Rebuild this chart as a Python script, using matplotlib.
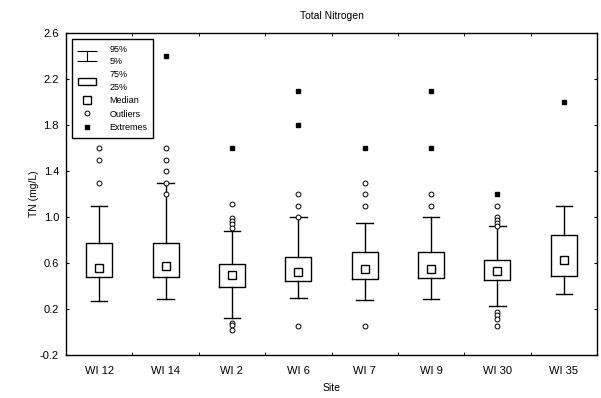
import numpy as np
import matplotlib
matplotlib.use("Agg")
import matplotlib.pyplot as plt
from matplotlib.lines import Line2D
from matplotlib.patches import Rectangle
from matplotlib.path import Path

plt.rcParams['font.family'] = ['Liberation Sans', 'DejaVu Sans']

# summary values (TN, mg/L)
sites = ['WI 12', 'WI 14', 'WI 2', 'WI 6', 'WI 7', 'WI 9', 'WI 30', 'WI 35']
p05 = [0.27, 0.29, 0.12, 0.30, 0.28, 0.29, 0.23, 0.33]
p25 = [0.48, 0.48, 0.39, 0.44, 0.46, 0.47, 0.45, 0.49]
medians = [0.56, 0.57, 0.50, 0.52, 0.55, 0.55, 0.53, 0.63]
p75 = [0.77, 0.77, 0.59, 0.65, 0.70, 0.70, 0.63, 0.84]
p95 = [1.10, 1.30, 0.88, 1.00, 0.95, 1.00, 0.92, 1.10]
outliers = [
    [1.6, 1.5, 1.3],
    [1.6, 1.5, 1.4, 1.3, 1.2],
    [1.11, 0.99, 0.965, 0.935, 0.905, 0.08, 0.06, 0.02],
    [1.2, 1.1, 1.0, 0.05],
    [1.3, 1.2, 1.1, 0.05],
    [1.2, 1.1],
    [1.1, 1.0, 0.975, 0.95, 0.925, 0.17, 0.145, 0.115, 0.05],
    [],
]
extremes = [[], [2.4], [1.6], [2.1, 1.8], [1.6], [2.1, 1.6], [1.2], [2.0]]

yticks = np.arange(-0.2, 2.61, 0.4)

fig = plt.figure(figsize=(6.01, 3.98), dpi=100)
ax = fig.add_axes([66/601, 1 - 355/398, 531/601, 322/398])

stats = []
for i in range(len(sites)):
    stats.append(dict(med=medians[i], mean=medians[i], q1=p25[i], q3=p75[i],
                      whislo=p05[i], whishi=p95[i], fliers=outliers[i], label=sites[i]))

pos = np.arange(1, len(sites) + 1)
ax.bxp(stats, positions=pos, widths=0.39, showmeans=True, showfliers=True,
       boxprops=dict(color='black', lw=1),
       whiskerprops=dict(color='black', lw=1),
       capprops=dict(color='black', lw=1),
       capwidths=0.25,
       medianprops=dict(linestyle='none'),
       meanprops=dict(marker='s', markerfacecolor='white', markeredgecolor='black',
                      markersize=6, markeredgewidth=1),
       flierprops=dict(marker='o', markerfacecolor='white', markeredgecolor='black',
                       markersize=3.5, markeredgewidth=0.7))

for i, ext in enumerate(extremes):
    ax.plot([pos[i]] * len(ext), ext, 's', color='black', ms=3.2, ls='none')

ax.set_xlim(0.5, len(sites) + 0.5)
ax.set_ylim(-0.2, 2.6)
ax.set_xticks(pos)
ax.set_xticklabels(sites, fontsize=8)
ax.set_xticks(pos[:-1] + 0.5, minor=True)
ax.tick_params(axis='x', which='major', length=0, pad=8)
ax.tick_params(axis='x', which='minor', length=2.5, direction='in', top=True, bottom=True)
ax.set_yticks(yticks)
ax.set_yticklabels(['%.1f' % v for v in yticks], fontsize=8)
ax.tick_params(axis='y', length=2.5, direction='in', left=True, right=True, pad=5)
for s in ax.spines.values():
    s.set_linewidth(1)

ax.set_title('Total Nitrogen', fontsize=7.5, pad=10)
ax.set_xlabel('Site', fontsize=7.5, labelpad=5)
ax.set_ylabel('TN (mg/L)', fontsize=7.5, labelpad=1)

# legend symbols
ibeam = Path([(-1, 0.5), (1, 0.5), (0, 0.5), (0, -0.5), (-1, -0.5), (1, -0.5)],
             [Path.MOVETO, Path.LINETO, Path.MOVETO, Path.LINETO, Path.MOVETO, Path.LINETO])
handles = [
    Line2D([], [], marker=ibeam, ls='none', color='black', ms=14, mew=0.8),
    Rectangle((0, 0), 1, 1, facecolor='white', edgecolor='black', lw=1),
    Line2D([], [], marker='s', ls='none', mfc='white', mec='black', ms=6),
    Line2D([], [], marker='o', ls='none', mfc='white', mec='black', ms=3.5, mew=0.7),
    Line2D([], [], marker='s', ls='none', color='black', ms=3.2),
]
labels = ['95%\n5%', '75%\n25%', 'Median', 'Outliers', 'Extremes']
leg = ax.legend(handles, labels, loc='upper left', fontsize=6.5, frameon=True,
                fancybox=False, edgecolor='black', framealpha=1,
                handlelength=2.0, handleheight=0.8, handletextpad=1.5,
                borderpad=0.6, labelspacing=0.5, borderaxespad=0.7)
leg.get_frame().set_linewidth(1)
for t in leg.get_texts():
    t.set_linespacing(1.45)

fig.savefig('out.png', dpi=100)
